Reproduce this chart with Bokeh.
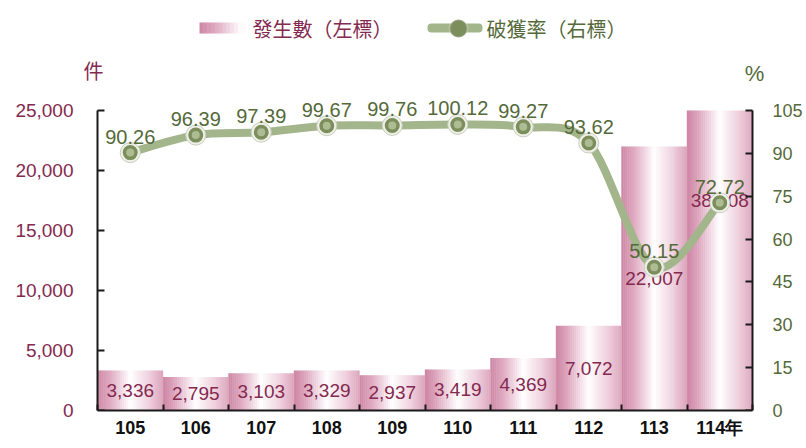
from bokeh.plotting import figure
from bokeh.models import (Range1d, LinearAxis, FixedTicker, NumeralTickFormatter,
                          ColumnDataSource, Label, BoxAnnotation)
from bokeh.transform import dodge
from bokeh.embed import file_html
from bokeh.resources import INLINE
from bokeh.core.properties import value

# ---- data ----
years = ["105", "106", "107", "108", "109", "110", "111", "112", "113", "114年"]
cases = [3336, 2795, 3103, 3329, 2937, 3419, 4369, 7072, 22007, 38008]
rates = [90.26, 96.39, 97.39, 99.67, 99.76, 100.12, 99.27, 93.62, 50.15, 72.72]
left_ticks = [0, 5000, 10000, 15000, 20000, 25000]
right_ticks = [0, 15, 30, 45, 60, 75, 90, 105]
legend_bar = "發生數（左標）"
legend_line = "破獲率（右標）"
unit_left = "件"
unit_right = "%"

NUM_FONT = "Liberation Sans"
CJK_FONT = "Noto Sans CJK TC"
MAROON = "#84294f"
OLIVE = "#55693a"
SAGE = "#a3b58b"
INK = "#1a1a1a"

# ---- layout constants (pixels) ----
W, H = 804, 446
FRAME_L, FRAME_R = 82, 764          # frame edges on the canvas
AXIS_L, AXIS_R = 97, 752            # where the value axes sit
FRAME_B = 410                        # frame bottom (frame top = 0)
AXIS_SPAN = 300                      # pixel height of the 0..max axis span
cat_px = (AXIS_R - AXIS_L) / len(years)

idx = list(range(len(years)))
ymax = left_ticks[-1]
shown = [min(c, ymax) for c in cases]                 # bars clipped at axis top
lbl_y = [c / 2 if c <= ymax else ymax * 0.7 for c in cases]
src = ColumnDataSource(dict(
    x=idx, cases=cases, shown=shown, lbl_y=lbl_y,
    case_lbl=[f"{c:,}" for c in cases],
    rate=rates, rate_lbl=[f"{r:.2f}" for r in rates],
))

xs = -0.5 - (AXIS_L - FRAME_L) / cat_px
xe = len(years) - 0.5 + (FRAME_R - AXIS_R) / cat_px
p = figure(frame_width=FRAME_R - FRAME_L, frame_height=FRAME_B,
           x_range=Range1d(xs, xe),
           y_range=Range1d(0, ymax * FRAME_B / AXIS_SPAN),
           output_backend="svg", toolbar_location=None,
           min_border_left=FRAME_L, min_border_right=W - FRAME_R, min_border_top=0,
           min_border_bottom=H - FRAME_B)
p.extra_y_ranges = {"right": Range1d(0, right_ticks[-1] * FRAME_B / AXIS_SPAN)}
p.outline_line_color = None
p.xgrid.visible = False
p.ygrid.visible = False
p.background_fill_color = "white"
p.border_fill_color = "white"

# ---- gradient bars (vertical stripes) ----
stops = [(0.0, (204, 132, 163)), (0.2, (224, 172, 194)), (0.5, (255, 255, 255)),
         (0.8, (238, 206, 219)), (1.0, (220, 165, 188))]


def grad(t):
    for (t0, c0), (t1, c1) in zip(stops[:-1], stops[1:]):
        if t0 <= t <= t1:
            f = (t - t0) / (t1 - t0)
            return "#%02x%02x%02x" % tuple(int(round(a + (b - a) * f)) for a, b in zip(c0, c1))
    return "#%02x%02x%02x" % stops[-1][1]


N = 32
for k in range(N):
    t = (k + 0.5) / N
    p.vbar(x=dodge("x", -0.5 + t), top="shown", bottom=0, width=1.0 / N + 0.006,
           source=src, fill_color=grad(t), line_color=None)

# bar labels
p.text(x="x", y="lbl_y", text="case_lbl", source=src, text_align="center",
       text_baseline="middle", text_font=value(NUM_FONT), text_font_size="19px",
       text_color=MAROON)

# ---- smoothed rate line (Catmull-Rom -> Bezier) ----
n = len(rates)
P = [(idx[i], rates[i]) for i in range(n)]
bz = dict(x0=[], y0=[], x1=[], y1=[], cx0=[], cy0=[], cx1=[], cy1=[])
for i in range(n - 1):
    pm = P[i - 1] if i > 0 else P[i]
    p0, p1 = P[i], P[i + 1]
    pp = P[i + 2] if i + 2 < n else P[i + 1]
    bz["x0"].append(p0[0]); bz["y0"].append(p0[1])
    bz["x1"].append(p1[0]); bz["y1"].append(p1[1])
    bz["cx0"].append(p0[0] + (p1[0] - pm[0]) / 6); bz["cy0"].append(p0[1] + (p1[1] - pm[1]) / 6)
    bz["cx1"].append(p1[0] - (pp[0] - p0[0]) / 6); bz["cy1"].append(p1[1] - (pp[1] - p0[1]) / 6)
p.bezier(source=ColumnDataSource(bz), x0="x0", y0="y0", x1="x1", y1="y1",
         cx0="cx0", cy0="cy0", cx1="cx1", cy1="cy1", line_color=SAGE,
         line_width=8, line_cap="round", y_range_name="right")

# markers (sphere-like)
p.scatter(x="x", y="rate", source=src, size=20, fill_color="#eef0e8",
          line_color="#c9cfbf", line_width=1, y_range_name="right")
p.scatter(x="x", y="rate", source=src, size=15, fill_color="#7b8e5c",
          line_color=None, y_range_name="right")
p.scatter(x="x", y="rate", source=src, size=8, fill_color="#b2c199",
          line_color=None, fill_alpha=0.9, y_range_name="right")

# rate labels
p.text(x="x", y="rate", text="rate_lbl", source=src, text_align="center",
       text_baseline="bottom", y_offset=-9, text_font=value(NUM_FONT),
       text_font_size="20px", text_color=OLIVE, y_range_name="right")

# ---- axes ----
ax = p.xaxis[0]
ax.ticker = FixedTicker(ticks=idx, minor_ticks=[i - 0.5 for i in range(len(years) + 1)])
ax.bounds = (-0.5, len(years) - 0.5)
ax.major_label_overrides = {i: years[i] for i in idx}
ax.major_tick_line_color = None
ax.major_tick_in = 0
ax.major_tick_out = 0
ax.minor_tick_in = 6
ax.minor_tick_out = 0
ax.minor_tick_line_width = 2
ax.minor_tick_line_color = INK
ax.axis_line_width = 2
ax.axis_line_color = INK
ax.major_label_text_font = NUM_FONT
ax.major_label_text_font_style = "bold"
ax.major_label_text_font_size = "18px"
ax.major_label_text_color = "#111111"
ax.major_label_standoff = 7


def rule_axis(range_name, ticks, loc):
    """Axis line + inward ticks pinned at a bar edge (labels live on a separate axis)."""
    a = LinearAxis(y_range_name=range_name, ticker=FixedTicker(ticks=[], minor_ticks=ticks),
                   bounds=(ticks[0], ticks[-1]), fixed_location=loc)
    a.major_tick_line_color = None
    a.major_tick_in = 0
    a.major_tick_out = 0
    a.minor_tick_in = 7
    a.minor_tick_out = 0
    a.minor_tick_line_width = 2
    a.minor_tick_line_color = INK
    a.axis_line_width = 2
    a.axis_line_color = INK
    a.major_label_standoff = 0
    return a


def label_axis(a, ticks, color, size, standoff):
    a.ticker = FixedTicker(ticks=ticks)
    a.axis_line_color = None
    a.major_tick_line_color = None
    a.minor_tick_line_color = None
    a.major_tick_in = 0
    a.major_tick_out = 0
    a.minor_tick_in = 0
    a.minor_tick_out = 0
    a.major_label_text_font = NUM_FONT
    a.major_label_text_font_size = size
    a.major_label_text_color = color
    a.major_label_standoff = standoff
    return a


# left labels (panel side) + rule
ly = label_axis(p.yaxis[0], left_ticks, MAROON, "19px", 9)
ly.formatter = NumeralTickFormatter(format="0,0")
p.add_layout(rule_axis("default", left_ticks, -0.5), "left")

# right labels (panel side) + rule
ry = label_axis(LinearAxis(y_range_name="right"), right_ticks, OLIVE, "18px", 8)
p.add_layout(ry, "right")
p.add_layout(rule_axis("right", right_ticks, len(years) - 0.5), "right")

# ---- units (screen units, relative to frame bottom-left) ----
p.add_layout(Label(x=11, y=340, x_units="screen", y_units="screen", text=unit_left,
                   text_font=CJK_FONT, text_font_size="20px", text_color=MAROON,
                   text_align="center", text_baseline="middle"))
p.add_layout(Label(x=672, y=337, x_units="screen", y_units="screen",
                   text=unit_right, text_font=NUM_FONT, text_font_size="22px",
                   text_color=OLIVE, text_align="center", text_baseline="middle"))

# ---- legend (manual) ----
LX0, LX1, LY0, LY1 = 117, 163, 377, 388
M = 12
for k in range(M):
    t = (k + 0.5) / M * 0.55
    p.add_layout(BoxAnnotation(left=LX0 + (LX1 - LX0) * k / M, right=LX0 + (LX1 - LX0) * (k + 1) / M + 0.5,
                               bottom=LY0, top=LY1, left_units="screen", right_units="screen",
                               top_units="screen", bottom_units="screen",
                               fill_color=grad(t), fill_alpha=1.0, line_color=None))
p.add_layout(Label(x=170, y=382, x_units="screen", y_units="screen", text=legend_bar,
                   text_font=CJK_FONT, text_font_size="20px", text_color=MAROON,
                   text_align="left", text_baseline="middle"))

p.add_layout(BoxAnnotation(left=345, right=400, bottom=378, top=387, left_units="screen",
                           right_units="screen", top_units="screen", bottom_units="screen",
                           fill_color=SAGE, fill_alpha=1.0, line_color=None, border_radius=4))
p.add_layout(BoxAnnotation(left=367, right=385, bottom=373, top=391, left_units="screen",
                           right_units="screen", top_units="screen", bottom_units="screen",
                           fill_color="#7b8e5c", fill_alpha=1.0, line_color="#eef0e8",
                           line_width=2, border_radius=9))
p.add_layout(Label(x=404, y=382, x_units="screen", y_units="screen", text=legend_line,
                   text_font=CJK_FONT, text_font_size="20px", text_color=OLIVE,
                   text_align="left", text_baseline="middle"))

open("out.html", "w").write(file_html(p, INLINE))
